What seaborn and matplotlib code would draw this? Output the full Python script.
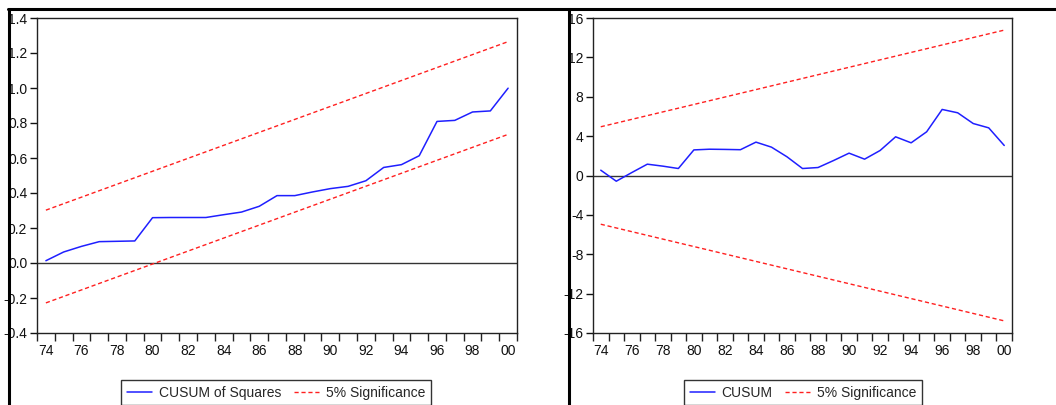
import numpy as np
import pandas as pd
import matplotlib
matplotlib.use("Agg")
import matplotlib.pyplot as plt
from matplotlib.lines import Line2D
import seaborn as sns

# ---------------- data ----------------
years = list(range(74, 101))  # 1974..2000 (00 shown as 100)

cusumsq = [0.013, 0.063, 0.095, 0.122, 0.124, 0.126, 0.259, 0.260, 0.260, 0.260,
           0.276, 0.291, 0.324, 0.385, 0.385, 0.406, 0.425, 0.438, 0.470, 0.546,
           0.562, 0.613, 0.809, 0.815, 0.863, 0.869, 0.999]

cusum = [0.54, -0.58, 0.30, 1.15, 0.95, 0.71, 2.60, 2.67, 2.65, 2.62,
         3.39, 2.88, 1.90, 0.71, 0.81, 1.52, 2.27, 1.66, 2.54, 3.93,
         3.32, 4.44, 6.71, 6.37, 5.28, 4.84, 3.05]

# straight significance bounds: start / end values
sig_years = [74, 100]
sq_upper = [0.302, 1.265]
sq_lower = [-0.228, 0.735]
cu_upper = [4.95, 14.77]
cu_lower = [-4.95, -14.77]

xlabels_years = list(range(74, 101, 2))
sq_yticks = [-0.4, -0.2, 0.0, 0.2, 0.4, 0.6, 0.8, 1.0, 1.2, 1.4]
cu_yticks = [-16, -12, -8, -4, 0, 4, 8, 12, 16]

# ---------------- style ----------------
sns.set_style("white")
plt.rcParams['font.family'] = ['Liberation Sans', 'DejaVu Sans']
plt.rcParams['font.size'] = 10

W, H = 1056, 405
fig = plt.figure(figsize=(W / 100, H / 100), dpi=100)

def px_axes(l, r, t, b):
    return fig.add_axes([l / W, 1 - b / H, (r - l) / W, (b - t) / H])

ax1 = px_axes(37, 517, 18, 333)
ax2 = px_axes(593, 1012, 18, 333)

BLUE = '#1f1fff'
RED = '#ff2020'

def style_axis(ax, yticks, ylim, fmt):
    ax.set_xlim(73.5, 100.5)
    ax.set_ylim(*ylim)
    ax.axhline(0, color='#333333', lw=1.0, zorder=1)
    ax.set_xticks(xlabels_years)
    ax.set_xticklabels(['%02d' % (y % 100) for y in xlabels_years])
    ax.set_xticks(np.arange(73.5, 100.6, 1.0), minor=True)
    ax.tick_params(axis='x', which='major', length=0, pad=8, labelsize=10, colors='#111111')
    ax.tick_params(axis='x', which='minor', length=6, width=1, direction='out', bottom=True, color='#222222')
    ax.set_yticks(yticks)
    ax.set_yticklabels([fmt(v) for v in yticks])
    ax.tick_params(axis='y', which='major', length=5, width=1, direction='out', left=True,
                   pad=2, labelsize=10, colors='#111111')
    for s in ax.spines.values():
        s.set_color('#222222')
        s.set_linewidth(1.0)
    ax.set_xlabel('')
    ax.set_ylabel('')
    ax.grid(False)

# ---- left panel: CUSUM of Squares ----
df_sq = pd.DataFrame({'year': years, 'val': cusumsq})
df_sig = pd.DataFrame({'year': sig_years, 'up': sq_upper, 'lo': sq_lower})
sns.lineplot(data=df_sq, x='year', y='val', ax=ax1, color=BLUE, lw=1.1, zorder=3)
sns.lineplot(data=df_sig, x='year', y='up', ax=ax1, color=RED, lw=1.0, zorder=2)
sns.lineplot(data=df_sig, x='year', y='lo', ax=ax1, color=RED, lw=1.0, zorder=2)
for ln in ax1.lines[1:3]:
    ln.set_linestyle((0, (3, 2)))
style_axis(ax1, sq_yticks, (-0.4, 1.4), lambda v: '%.1f' % v)

# ---- right panel: CUSUM ----
df_cu = pd.DataFrame({'year': years, 'val': cusum})
df_sig2 = pd.DataFrame({'year': sig_years, 'up': cu_upper, 'lo': cu_lower})
sns.lineplot(data=df_cu, x='year', y='val', ax=ax2, color=BLUE, lw=1.1, zorder=3)
sns.lineplot(data=df_sig2, x='year', y='up', ax=ax2, color=RED, lw=1.0, zorder=2)
sns.lineplot(data=df_sig2, x='year', y='lo', ax=ax2, color=RED, lw=1.0, zorder=2)
for ln in ax2.lines[1:3]:
    ln.set_linestyle((0, (3, 2)))
style_axis(ax2, cu_yticks, (-16, 16), lambda v: '%d' % v)

# ---- legends ----
def add_legend(label1, xc):
    h1 = Line2D([], [], color=BLUE, lw=1.1)
    h2 = Line2D([], [], color=RED, lw=1.0, linestyle=(0, (3, 2)))
    leg = fig.legend([h1, h2], [label1, '5% Significance'], loc='upper center',
                     bbox_to_anchor=(xc / W, 1 - 380 / H), ncol=2, frameon=True,
                     fancybox=False, edgecolor='#333333', framealpha=1,
                     handlelength=1.8, handletextpad=0.5, columnspacing=0.9,
                     borderpad=0.4, borderaxespad=0, fontsize=10)
    leg.get_frame().set_linewidth(1.0)
    return leg

add_legend('CUSUM of Squares', 276)
add_legend('CUSUM', 803)

# ---- page frame lines ----
fig.add_artist(Line2D([8 / W, 1], [1 - 9 / H, 1 - 9 / H], color='black', lw=2.2, transform=fig.transFigure))
fig.add_artist(Line2D([9 / W, 9 / W], [0, 1 - 9 / H], color='black', lw=2.2, transform=fig.transFigure))
fig.add_artist(Line2D([569 / W, 569 / W], [0, 1 - 9 / H], color='black', lw=2.2, transform=fig.transFigure))

fig.savefig('out.png', dpi=100, facecolor='white')
